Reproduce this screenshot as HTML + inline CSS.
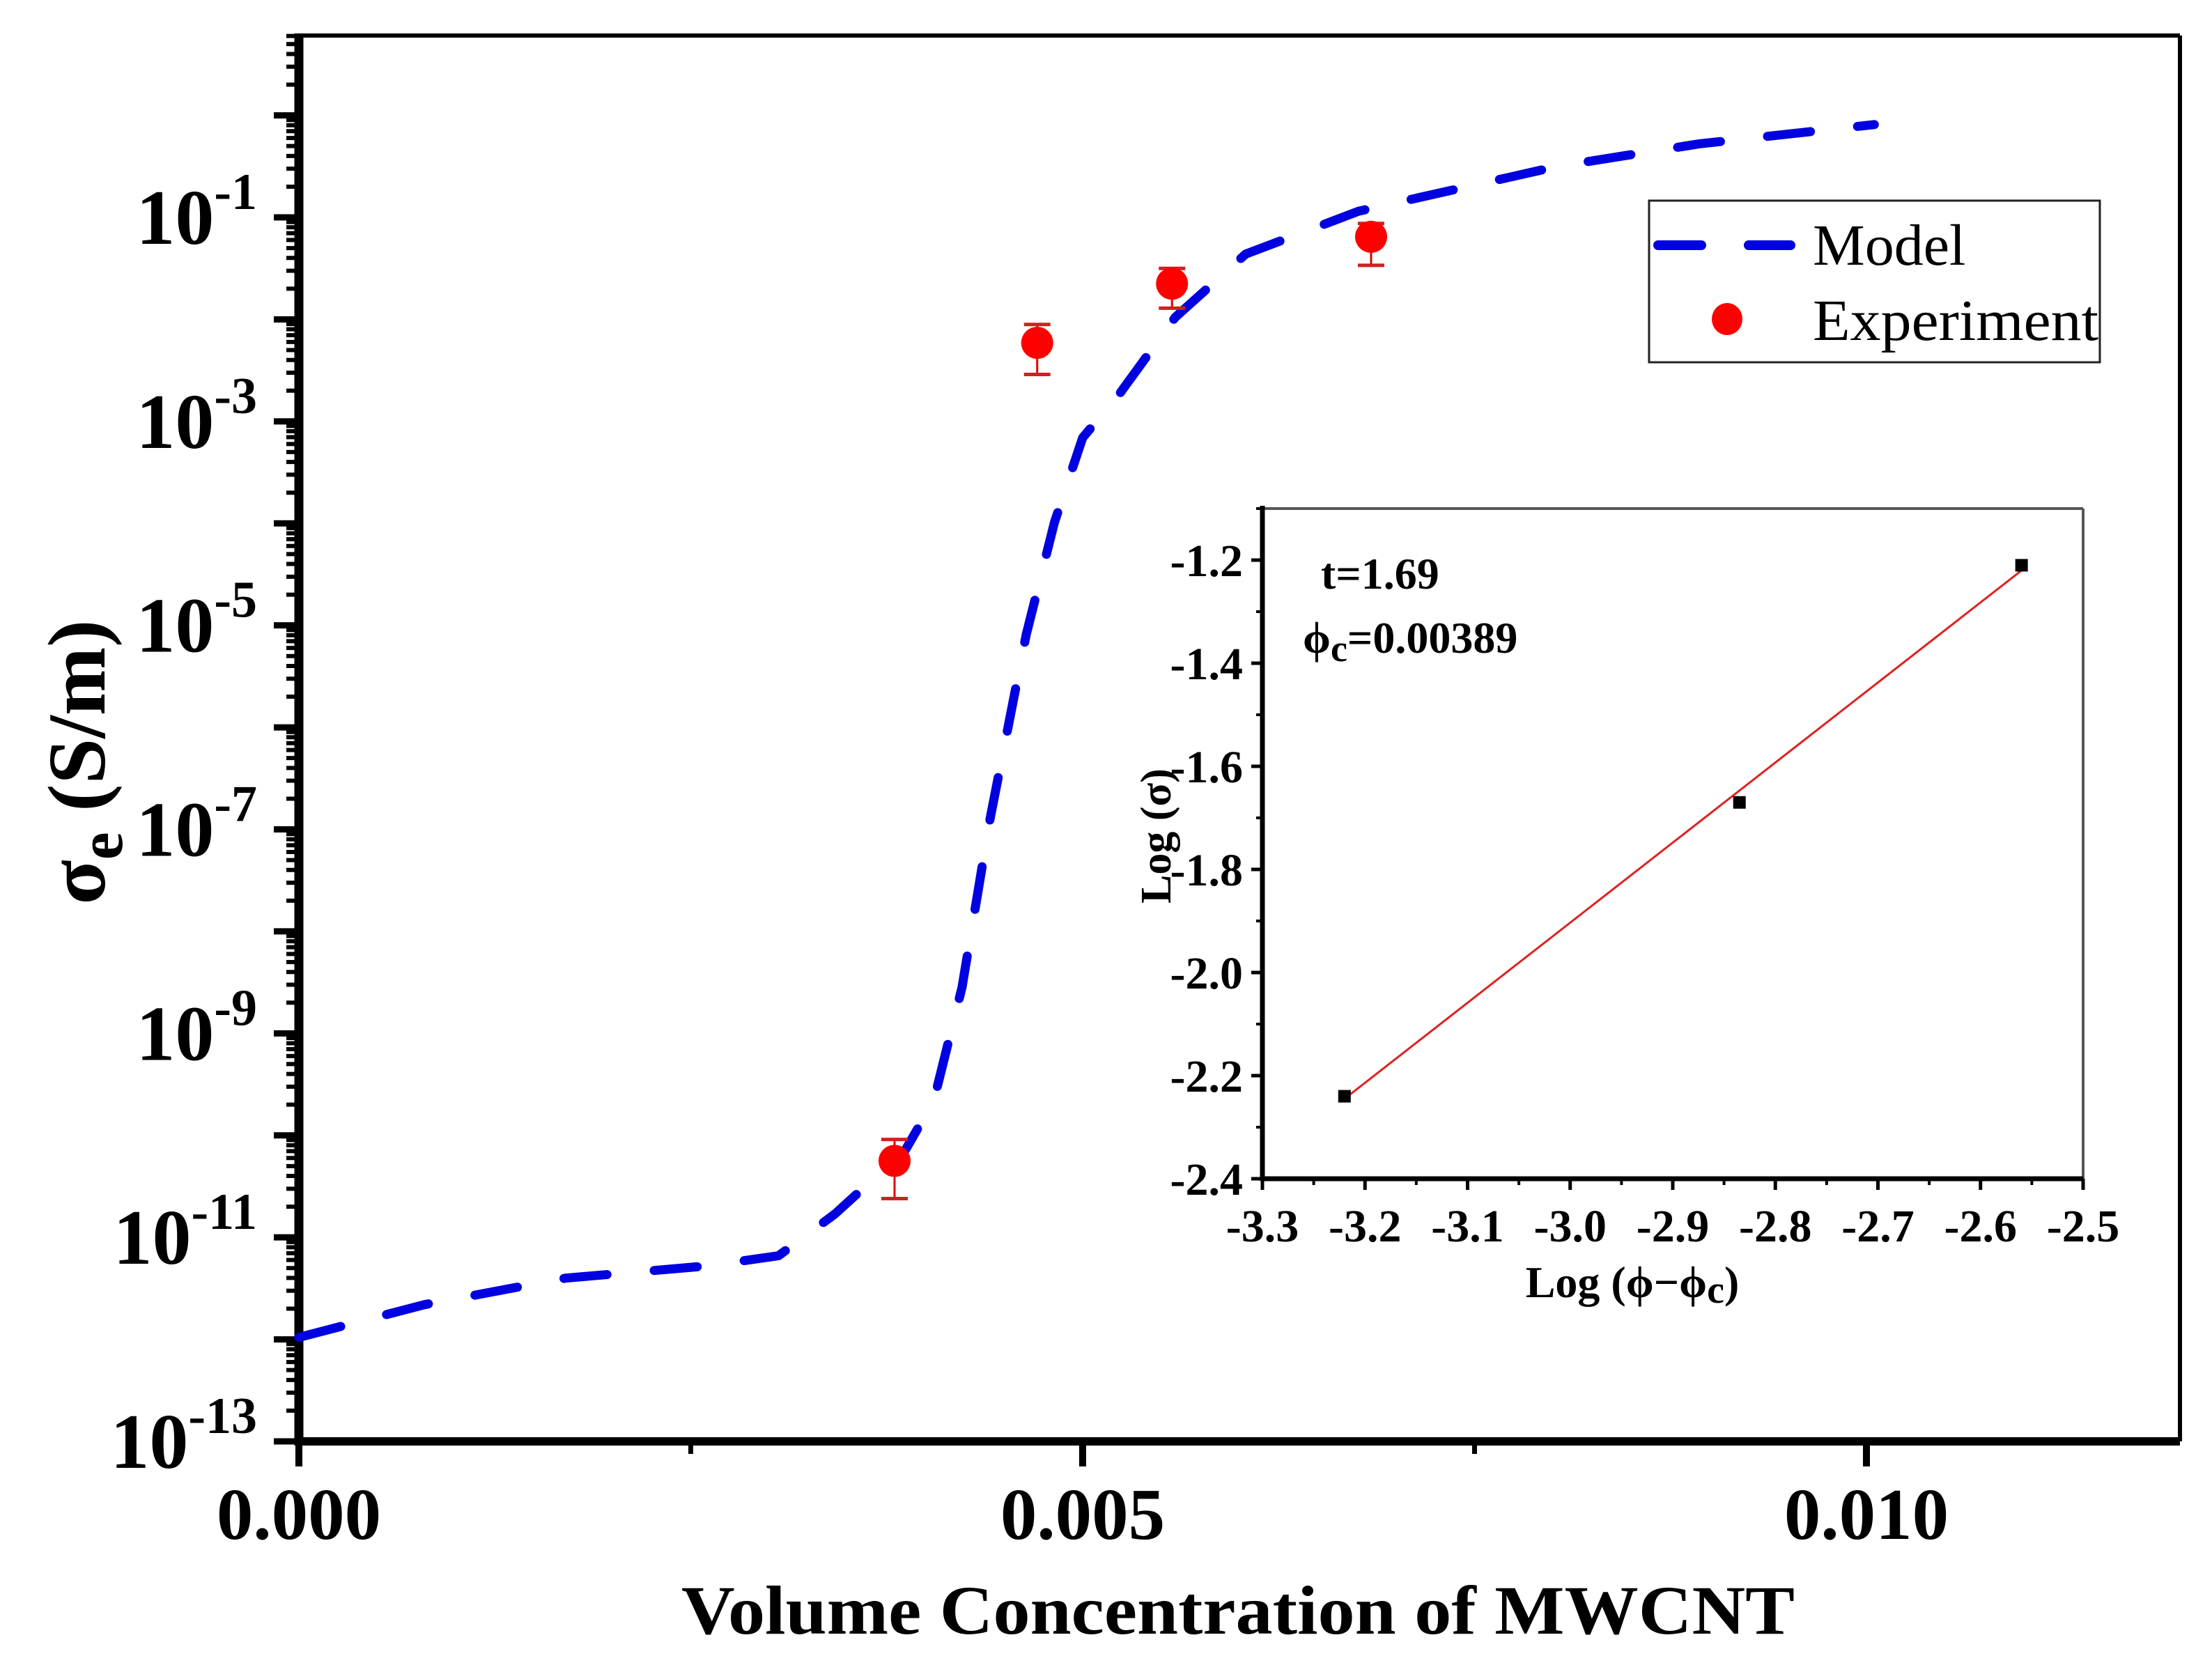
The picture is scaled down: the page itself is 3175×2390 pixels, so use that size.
<!DOCTYPE html>
<html><head><meta charset="utf-8"><style>
html,body{margin:0;padding:0;background:#fff}
svg{display:block}
text{font-family:"Liberation Serif",serif;font-weight:bold;fill:#000}
</style></head><body>
<svg id="chart" width="3175" height="2390" viewBox="0 0 3175 2390" xmlns="http://www.w3.org/2000/svg">
<g id="main"></g>
<g id="inset"></g>
</svg>
<script>
// main chart data
const modelX = [0, 0.0008, 0.0017, 0.0026, 0.00306, 0.00342, 0.00387, 0.00405, 0.00423, 0.00441, 0.00464, 0.00482, 0.005, 0.00523, 0.00559, 0.00604, 0.00676, 0.00803, 0.00893, 0.01005];
const modelLog = [-11.98, -11.66, -11.4, -11.28, -11.18, -10.77, -10.14, -9.66, -8.55, -6.89, -5.09, -3.99, -3.16, -2.74, -1.98, -1.36, -0.94, -0.50, -0.28, -0.09];
const expX = [0.0038, 0.00471, 0.00557, 0.00684];
const expLog = [-10.25, -2.23, -1.65, -1.19];
const expErrHi = [-10.04, -2.05, -1.50, -1.06];
const expErrLo = [-10.62, -2.54, -1.89, -1.47];
const xTickVals = [0, 0.005, 0.010];
const xTickLabels = ["0.000", "0.005", "0.010"];
const yLabelExps = [-13, -11, -9, -7, -5, -3, -1];
// inset data
const insetX = [-3.22, -2.835, -2.56];
const insetY = [-2.24, -1.67, -1.21];
const fitX = [-3.22, -2.56];
const fitY = [-2.245, -1.22];
const insetXTicks = [-3.3, -3.2, -3.1, -3.0, -2.9, -2.8, -2.7, -2.6, -2.5];
const insetYTicks = [-2.4, -2.2, -2.0, -1.8, -1.6, -1.4, -1.2];

const NS = "http://www.w3.org/2000/svg";
function mk(parent, tag, attrs, txt){const e=document.createElementNS(NS,tag);for(const k in attrs)e.setAttribute(k,attrs[k]);if(txt!==undefined)e.textContent=txt;parent.appendChild(e);return e;}

const L=429,R=3129,T=51,B=2069;
const xMin=0,xMax=0.012,yMin=-13,yTop=-1+(312-51)/146.4;
const sx=v=>L+(v-xMin)/(xMax-xMin)*(R-L);
const sy=lg=>B-(lg-yMin)/(yTop-yMin)*(B-T);
const main=document.getElementById('main');

let e;
e=mk(main,'line',{x1:L,y1:T,x2:R,y2:T,stroke:'#000','stroke-width':6});

e=mk(main,'line',{x1:R,y1:T,x2:R,y2:B,stroke:'#000','stroke-width':6});

e=mk(main,'line',{x1:L,y1:T-3,x2:L,y2:B+6,stroke:'#000','stroke-width':13});

e=mk(main,'line',{x1:L-6,y1:B,x2:R,y2:B,stroke:'#000','stroke-width':12});


for(let d=-13;d<=0;d++){
  const y=sy(d);
  if(y>=T-2){e=mk(main,'line',{x1:L-36,y1:y,x2:L,y2:y,stroke:'#000','stroke-width':9});
  }
  for(let m=2;m<=9;m++){const yy=sy(d+Math.log10(m));if(yy<T||yy>B)continue;
    e=mk(main,'line',{x1:L-18,y1:yy,x2:L,y2:yy,stroke:'#000','stroke-width':6});
    }
}
yLabelExps.forEach(p=>{
  const t=mk(main,'text',{x:L-60,y:sy(p)+38,'text-anchor':'end','font-size':112});
  
  mk(t,'tspan',{},'10');
  mk(t,'tspan',{dy:-50,'font-size':74},String(p));
});
for(let v=0;v<=0.0121;v+=0.0025){
  const major=Math.abs((v/0.005)-Math.round(v/0.005))<1e-6;
  e=mk(main,'line',{x1:sx(v),y1:B,x2:sx(v),y2:B+(major?36:18),stroke:'#000','stroke-width':major?10:7});
  
}
xTickVals.forEach((v,i)=>{
  e=mk(main,'text',{x:sx(v),y:B+140,'text-anchor':'middle','font-size':105},xTickLabels[i]);
  
});
e=mk(main,'text',{x:1777,y:2345,'text-anchor':'middle','font-size':100,textLength:1598,lengthAdjust:'spacingAndGlyphs'},'Volume Concentration of MWCNT');

e=mk(main,'text',{transform:'translate(150,1094) rotate(-90)','text-anchor':'middle','font-size':118});

mk(e,'tspan',{},'σ');mk(e,'tspan',{dy:25,'font-size':90},'e');mk(e,'tspan',{dy:-25},' (S/m)');

let d='';modelX.forEach((x,i)=>{d+=(i?'L':'M')+sx(x).toFixed(1)+','+sy(modelLog[i]).toFixed(1);});
e=mk(main,'path',{d:d,fill:'none',stroke:'#0000e0','stroke-width':13,'stroke-dasharray':'62 68','stroke-linecap':'round','stroke-linejoin':'round'});

expX.forEach((x,i)=>{
  const g=mk(main,'g',{});
  
  const cx=sx(x),hi=sy(expErrHi[i]),lo=sy(expErrLo[i]);
  mk(g,'line',{x1:cx,y1:hi,x2:cx,y2:lo,stroke:'#e00000','stroke-width':3});
  mk(g,'line',{x1:cx-19,y1:hi,x2:cx+19,y2:hi,stroke:'#d02020','stroke-width':5});
  mk(g,'line',{x1:cx-19,y1:lo,x2:cx+19,y2:lo,stroke:'#d02020','stroke-width':5});
  mk(g,'ellipse',{cx:cx,cy:sy(expLog[i]),rx:23,ry:23,fill:'#ff0000'});
});

const lg=mk(main,'g',{});

mk(lg,'rect',{x:2367,y:288,width:647,height:232,fill:'#fff',stroke:'#222','stroke-width':3});
e=mk(lg,'line',{x1:2380,y1:352,x2:2570,y2:352,stroke:'#0000e0','stroke-width':14,'stroke-dasharray':'62 68','stroke-linecap':'round'});

e=mk(lg,'text',{x:2602,y:380,'font-size':84,style:'font-weight:normal'},'Model');

e=mk(lg,'ellipse',{cx:2479,cy:458,rx:22,ry:23,fill:'#ff0000'});

e=mk(lg,'text',{x:2602,y:488,'font-size':84,style:'font-weight:normal',textLength:410,lengthAdjust:'spacingAndGlyphs'},'Experiment');


const ins=document.getElementById('inset');

const iL=1812,iR=2990,iT=730,iB=1692;
const ix=v=>iL+(v+3.3)/0.8*(iR-iL);
const iy=v=>iB-(v+2.4)/1.3*(iB-iT);
mk(ins,'rect',{x:iL,y:iT,width:iR-iL,height:iB-iT,fill:'#fff',stroke:'none'});
mk(ins,'line',{x1:iL,y1:iT,x2:iR,y2:iT,stroke:'#555','stroke-width':4});
mk(ins,'line',{x1:iR,y1:iT,x2:iR,y2:iB,stroke:'#555','stroke-width':4});
e=mk(ins,'line',{x1:iL,y1:iT-4,x2:iL,y2:iB+3,stroke:'#000','stroke-width':7});

e=mk(ins,'line',{x1:iL-3,y1:iB,x2:iR,y2:iB,stroke:'#000','stroke-width':7});

insetYTicks.forEach(v=>{
  mk(ins,'line',{x1:iL-16,y1:iy(v),x2:iL,y2:iy(v),stroke:'#000','stroke-width':5});
  if(v+0.1<=-1.1+1e-6) mk(ins,'line',{x1:iL-9,y1:iy(v+0.1),x2:iL,y2:iy(v+0.1),stroke:'#000','stroke-width':4});
  e=mk(ins,'text',{x:iL-28,y:iy(v)+23,'text-anchor':'end','font-size':66},v.toFixed(1));
  
});
insetXTicks.forEach((v,i)=>{
  mk(ins,'line',{x1:ix(v),y1:iB,x2:ix(v),y2:iB+16,stroke:'#000','stroke-width':5});
  if(i<insetXTicks.length-1) mk(ins,'line',{x1:ix(v+0.05),y1:iB,x2:ix(v+0.05),y2:iB+9,stroke:'#000','stroke-width':4});
  e=mk(ins,'text',{x:ix(v),y:iB+90,'text-anchor':'middle','font-size':66},v.toFixed(1));
  
});
e=mk(ins,'line',{x1:ix(fitX[0]),y1:iy(fitY[0]),x2:ix(fitX[1]),y2:iy(fitY[1]),stroke:'#dd2222','stroke-width':3});

insetX.forEach((x,i)=>{
  e=mk(ins,'rect',{x:ix(x)-9,y:iy(insetY[i])-9,width:18,height:18,fill:'#000'});
  
});
e=mk(ins,'text',{x:1896,y:845,'font-size':64},'t=1.69');

e=mk(ins,'text',{x:1870,y:937,'font-size':64});

mk(e,'tspan',{},'ϕ');mk(e,'tspan',{dy:12,'font-size':54},'c');mk(e,'tspan',{dy:-12},'=0.00389');
e=mk(ins,'text',{x:2343,y:1862,'text-anchor':'middle','font-size':64});

mk(e,'tspan',{},'Log (ϕ−ϕ');mk(e,'tspan',{dy:8,'font-size':56},'c');mk(e,'tspan',{dy:-8},')');
e=mk(ins,'text',{transform:'translate(1680,1200) rotate(-90)','text-anchor':'middle','font-size':62},'Log (σ)');

</script>
</body></html>
